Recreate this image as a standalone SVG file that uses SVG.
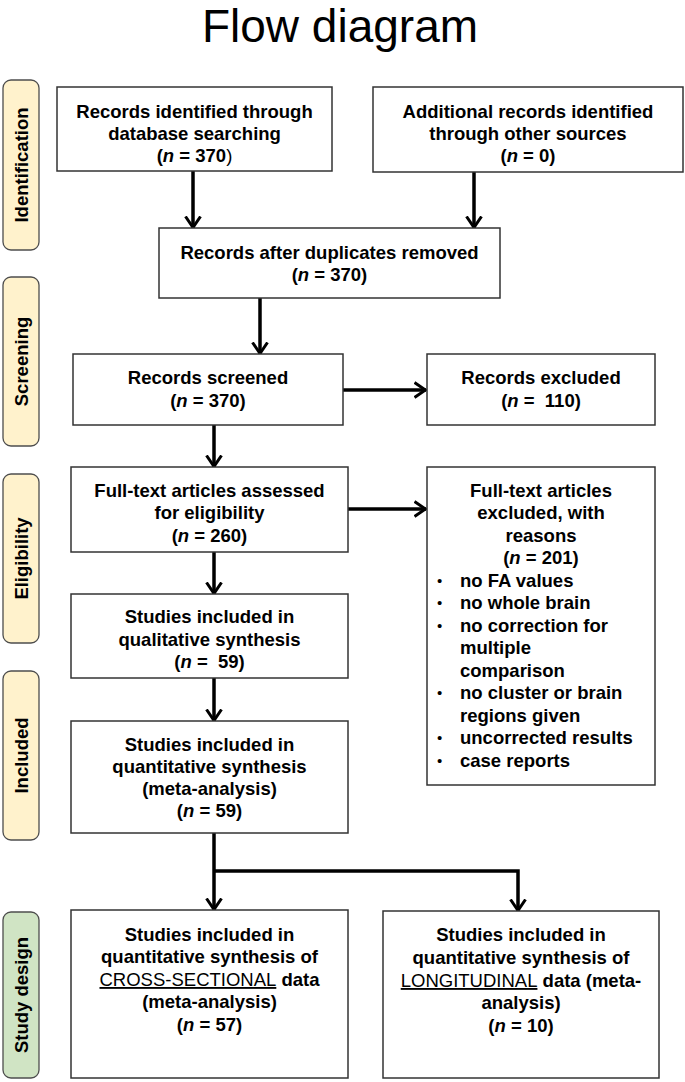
<svg xmlns="http://www.w3.org/2000/svg" width="685" height="1082" viewBox="0 0 685 1082">
<style>
.box{fill:#fff;stroke:#333;stroke-width:1.5}
.side{stroke:#4d4d4d;stroke-width:1.3}
.y{fill:#FFF2CC}
.g{fill:#D0E4C4}
text{font-family:"Liberation Sans",Arial,sans-serif;font-size:18.5px;font-weight:bold;fill:#000}
.c{text-anchor:middle}
.st{text-anchor:middle;font-size:18.5px}
.title{font-size:46px;font-weight:normal;text-anchor:middle}
.i{font-style:italic}
.r{font-weight:normal}
.u{font-weight:normal;text-decoration:underline}
.b{font-weight:normal;font-size:15px}
.conn{fill:none;stroke:#000;stroke-width:3.5}
</style>
<defs>
<marker id="ah" viewBox="0 0 14 18" refX="12.5" refY="9" markerWidth="14" markerHeight="18" markerUnits="userSpaceOnUse" orient="auto">
<path d="M1,1.5 L12,9 L1,16.5" fill="none" stroke="#000" stroke-width="3"/>
</marker>
</defs>
<rect width="685" height="1082" fill="#fff"/>
<text class="title" x="340" y="42">Flow diagram</text>

<g id="side-identification"><rect class="side y" x="3" y="80" width="36" height="170" rx="8"/><text class="st" transform="translate(27.5,165) rotate(-90)">Identification</text></g>
<g id="side-screening"><rect class="side y" x="3" y="277" width="36" height="169" rx="8"/><text class="st" transform="translate(27.5,361.5) rotate(-90)">Screening</text></g>
<g id="side-eligibility"><rect class="side y" x="3" y="474" width="36" height="169" rx="8"/><text class="st" transform="translate(27.5,558.5) rotate(-90)">Eligibility</text></g>
<g id="side-included"><rect class="side y" x="3" y="671" width="36" height="169" rx="8"/><text class="st" transform="translate(27.5,755.5) rotate(-90)">Included</text></g>
<g id="side-study"><rect class="side g" x="3" y="912" width="36" height="166" rx="8"/><text class="st" transform="translate(27.5,995) rotate(-90)">Study design</text></g>

<g id="connectors">
<line class="conn" x1="193" y1="171" x2="193" y2="228" marker-end="url(#ah)"/>
<line class="conn" x1="474" y1="172" x2="474" y2="228" marker-end="url(#ah)"/>
<line class="conn" x1="260" y1="298" x2="260" y2="354" marker-end="url(#ah)"/>
<line class="conn" x1="343" y1="390" x2="426" y2="390" marker-end="url(#ah)"/>
<line class="conn" x1="214" y1="425" x2="214" y2="467" marker-end="url(#ah)"/>
<line class="conn" x1="348" y1="509" x2="426" y2="509" marker-end="url(#ah)"/>
<line class="conn" x1="214" y1="552" x2="214" y2="594" marker-end="url(#ah)"/>
<line class="conn" x1="214" y1="678" x2="214" y2="721" marker-end="url(#ah)"/>
<line class="conn" x1="214" y1="833" x2="214" y2="910" marker-end="url(#ah)"/>
<polyline class="conn" points="214,871 518,871 518,911" marker-end="url(#ah)"/>
</g>

<g id="n-db">
<rect class="box" x="57" y="87" width="275" height="84"/>
<text class="c" x="194.5" y="118">Records identified through</text>
<text class="c" x="194.5" y="140">database searching</text>
<text class="c" x="194.5" y="162">(<tspan class="i">n</tspan> = 370<tspan class="r">)</tspan></text>
</g>
<g id="n-other">
<rect class="box" x="373" y="87" width="310" height="85"/>
<text class="c" x="528" y="118">Additional records identified</text>
<text class="c" x="528" y="140">through other sources</text>
<text class="c" x="528" y="162">(<tspan class="i">n</tspan> = 0)</text>
</g>
<g id="n-dup">
<rect class="box" x="159" y="228" width="341" height="70"/>
<text class="c" x="329.5" y="259">Records after duplicates removed</text>
<text class="c" x="329.5" y="281">(<tspan class="i">n</tspan> = 370)</text>
</g>
<g id="n-screened">
<rect class="box" x="73" y="354" width="270" height="71"/>
<text class="c" x="208" y="384">Records screened</text>
<text class="c" x="208" y="407">(<tspan class="i">n</tspan> = 370)</text>
</g>
<g id="n-excluded">
<rect class="box" x="427" y="354" width="228" height="71"/>
<text class="c" x="541" y="384">Records excluded</text>
<text class="c" x="541" y="407" xml:space="preserve">(<tspan class="i">n</tspan> =  110)</text>
</g>
<g id="n-fulltext">
<rect class="box" x="71" y="467" width="277" height="85"/>
<text class="c" x="209.5" y="497">Full-text articles assessed</text>
<text class="c" x="209.5" y="519">for eligibility</text>
<text class="c" x="209.5" y="542">(<tspan class="i">n</tspan> = 260)</text>
</g>
<g id="n-ftexcluded">
<rect class="box" x="427" y="467" width="228" height="318"/>
<text class="c" x="541" y="497">Full-text articles</text>
<text class="c" x="541" y="519">excluded, with</text>
<text class="c" x="541" y="542">reasons</text>
<text class="c" x="541" y="564">(<tspan class="i">n</tspan> = 201)</text>
<text class="b" x="437" y="586">•</text><text x="460" y="587">no FA values</text>
<text class="b" x="437" y="608">•</text><text x="460" y="609">no whole brain</text>
<text class="b" x="437" y="631">•</text><text x="460" y="632">no correction for</text>
<text x="460" y="654">multiple</text>
<text x="460" y="677">comparison</text>
<text class="b" x="437" y="698">•</text><text x="460" y="699">no cluster or brain</text>
<text x="460" y="722">regions given</text>
<text class="b" x="437" y="743">•</text><text x="460" y="744">uncorrected results</text>
<text class="b" x="437" y="766">•</text><text x="460" y="767">case reports</text>
</g>
<g id="n-qual">
<rect class="box" x="71" y="594" width="277" height="84"/>
<text class="c" x="209.5" y="623">Studies included in</text>
<text class="c" x="209.5" y="646">qualitative synthesis</text>
<text class="c" x="209.5" y="668" xml:space="preserve">(<tspan class="i">n</tspan> =  59)</text>
</g>
<g id="n-quant">
<rect class="box" x="71" y="721" width="277" height="112"/>
<text class="c" x="209.5" y="751">Studies included in</text>
<text class="c" x="209.5" y="773">quantitative synthesis</text>
<text class="c" x="209.5" y="795">(meta-analysis)</text>
<text class="c" x="209.5" y="817">(<tspan class="i">n</tspan> = 59)</text>
</g>
<g id="n-cross">
<rect class="box" x="71" y="910" width="277" height="168"/>
<text class="c" x="209.5" y="941">Studies included in</text>
<text class="c" x="209.5" y="963">quantitative synthesis of</text>
<text class="c" x="209.5" y="986"><tspan class="u">CROSS-SECTIONAL</tspan> data</text>
<text class="c" x="209.5" y="1008">(meta-analysis)</text>
<text class="c" x="209.5" y="1031">(<tspan class="i">n</tspan> = 57)</text>
</g>
<g id="n-long">
<rect class="box" x="383" y="911" width="276" height="167"/>
<text class="c" x="521" y="941">Studies included in</text>
<text class="c" x="521" y="964">quantitative synthesis of</text>
<text class="c" x="521" y="987"><tspan class="u">LONGITUDINAL</tspan> data (meta-</text>
<text class="c" x="521" y="1009">analysis)</text>
<text class="c" x="521" y="1032">(<tspan class="i">n</tspan> = 10)</text>
</g>
</svg>
